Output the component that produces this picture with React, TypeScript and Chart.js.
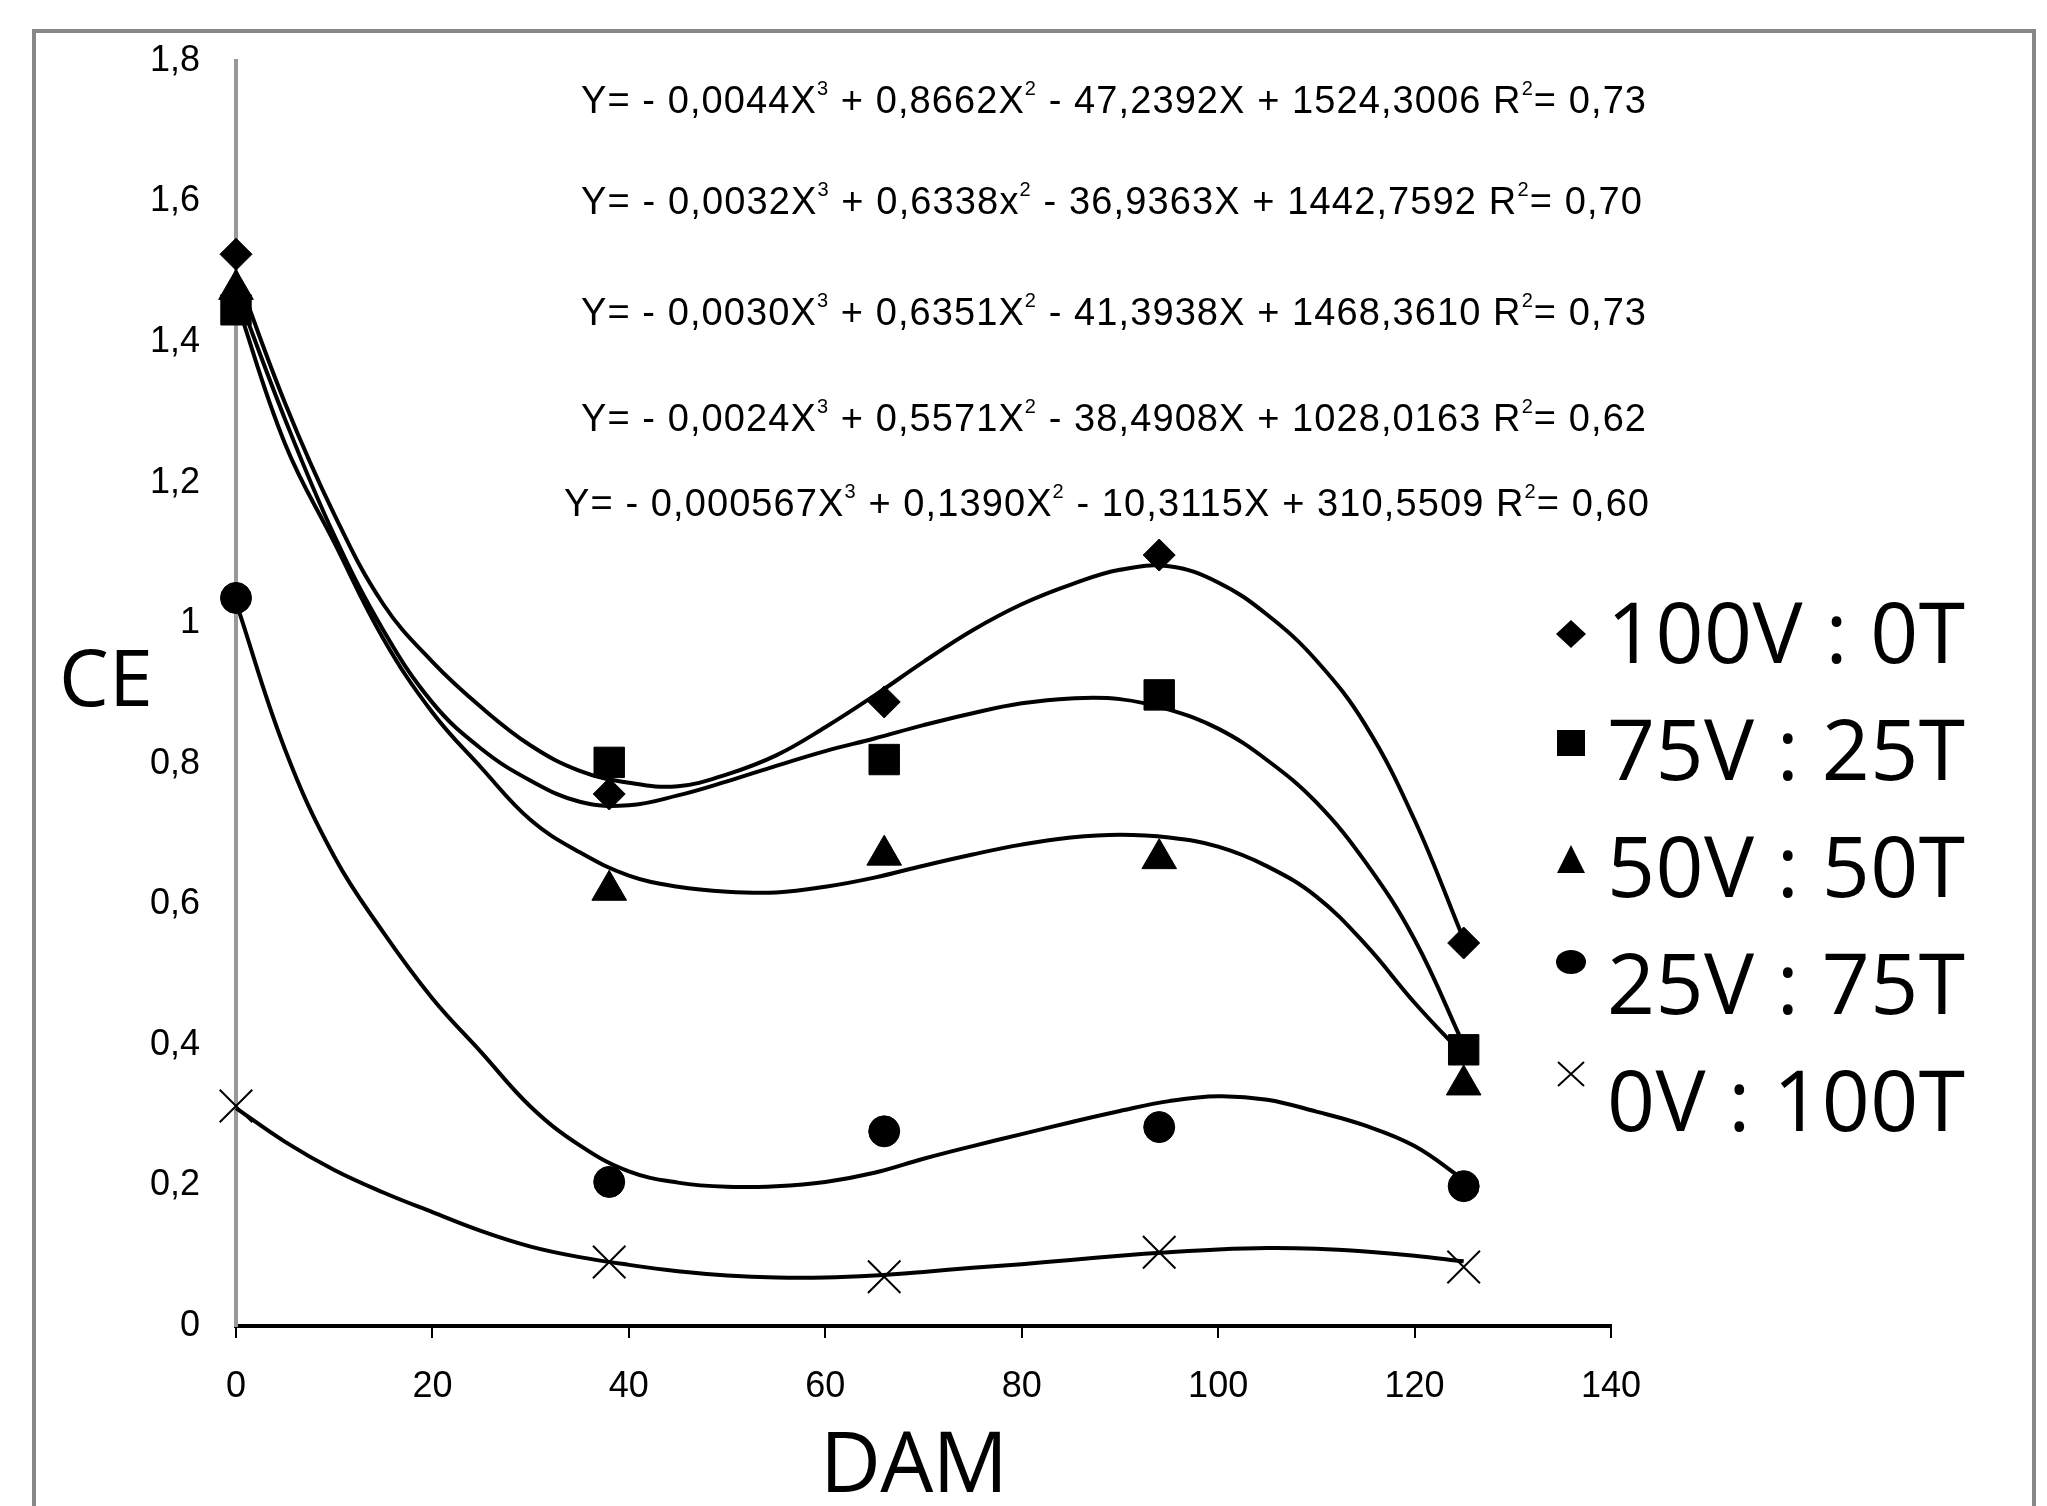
import React, { useEffect, useRef } from 'react';
import { Chart, registerables } from 'chart.js';

Chart.register(...registerables);

// ---------------- data ----------------
const DAM_DAYS = [0, 38, 66, 94, 125];

const CE_100V_0T = [1.525, 0.757, 0.888, 1.097, 0.545];
const CE_75V_25T = [1.446, 0.802, 0.806, 0.898, 0.393];
const CE_50V_50T = [1.475, 0.62, 0.67, 0.665, 0.343];
const CE_25V_75T = [1.036, 0.205, 0.277, 0.283, 0.199];
const CE_0V_100T = [0.313, 0.091, 0.07, 0.105, 0.084];

const TREND_DAM = [0, 5, 10, 15, 20, 25, 30, 35, 40, 45, 50, 55, 60, 65, 70, 75, 80, 85, 90, 95, 100, 105, 110, 115, 120, 125];
const TREND_100V_0T = [1.5, 1.313, 1.155, 1.027, 0.945, 0.88, 0.826, 0.79, 0.773, 0.768, 0.785, 0.812, 0.852, 0.897, 0.945, 0.99, 1.027, 1.055, 1.076, 1.081, 1.058, 1.012, 0.947, 0.855, 0.72, 0.55];
const TREND_75V_25T = [1.475, 1.29, 1.125, 0.99, 0.887, 0.821, 0.776, 0.746, 0.741, 0.755, 0.775, 0.797, 0.818, 0.836, 0.855, 0.872, 0.886, 0.893, 0.892, 0.877, 0.85, 0.805, 0.745, 0.66, 0.55, 0.4];
const TREND_50V_50T = [1.46, 1.255, 1.115, 0.978, 0.873, 0.794, 0.72, 0.674, 0.641, 0.625, 0.618, 0.617, 0.625, 0.638, 0.655, 0.671, 0.685, 0.695, 0.699, 0.695, 0.682, 0.654, 0.611, 0.543, 0.46, 0.385];
const TREND_25V_75T = [1.03, 0.82, 0.668, 0.56, 0.466, 0.389, 0.312, 0.257, 0.22, 0.204, 0.198, 0.199, 0.205, 0.218, 0.238, 0.256, 0.273, 0.29, 0.306, 0.32, 0.327, 0.322, 0.305, 0.285, 0.256, 0.208];
const TREND_0V_100T = [0.31, 0.262, 0.222, 0.19, 0.162, 0.135, 0.113, 0.098, 0.087, 0.078, 0.072, 0.069, 0.069, 0.072, 0.077, 0.083, 0.088, 0.094, 0.1, 0.105, 0.109, 0.111, 0.11, 0.106, 0.1, 0.092];

const SERIES_LABELS = ['100V : 0T', '75V : 25T', '50V : 50T', '25V : 75T', '0V : 100T'];
const SERIES_VALUES = [CE_100V_0T, CE_75V_25T, CE_50V_50T, CE_25V_75T, CE_0V_100T];
const SERIES_TRENDS = [TREND_100V_0T, TREND_75V_25T, TREND_50V_50T, TREND_25V_75T, TREND_0V_100T];

const EQUATIONS = [
  'Y= - 0,0044X^3 + 0,8662X^2 - 47,2392X + 1524,3006 R^2= 0,73',
  'Y= - 0,0032X^3 + 0,6338x^2 - 36,9363X + 1442,7592 R^2= 0,70',
  'Y= - 0,0030X^3 + 0,6351X^2 - 41,3938X + 1468,3610 R^2= 0,73',
  'Y= - 0,0024X^3 + 0,5571X^2 - 38,4908X + 1028,0163 R^2= 0,62',
  'Y= - 0,000567X^3 + 0,1390X^2 - 10,3115X + 310,5509 R^2= 0,60',
];

const X_TITLE = 'DAM';
const Y_TITLE = 'CE';
const X_MIN = 0, X_MAX = 140, X_STEP = 20;
const Y_MIN = 0, Y_MAX = 1.8, Y_STEP = 0.2;

// ---------------- styles / layout ----------------
const W = 2047, H = 1506;
const MARKERS = [
  { pointStyle: 'rectRot', radius: 16, borderWidth: 1, legend: 'diamond' },
  { pointStyle: 'rect', radius: 21.5, borderWidth: 1, legend: 'square' },
  { pointStyle: 'triangle', radius: 20, borderWidth: 1, legend: 'triangle' },
  { pointStyle: 'circle', radius: 15.5, borderWidth: 1, legend: 'circle' },
  { pointStyle: 'crossRot', radius: 23, borderWidth: 2, legend: 'cross' },
];
const EQ_LAYOUT = [
  { x: 581, y: 113, w: 1065 },
  { x: 581, y: 214, w: 1061 },
  { x: 581, y: 325, w: 1065 },
  { x: 581, y: 431, w: 1065 },
  { x: 564, y: 516, w: 1085 },
];
const LEGEND_TEXT_X = 1607;
const LEGEND_BASELINES = [663, 780, 897, 1014, 1131];
const LEGEND_MARKER_Y = [634, 743, 860, 962, 1074];
const LEGEND_MARKER_X = 1571;
const LEGEND_TEXT_W = 358;

function fitText(ctx: CanvasRenderingContext2D, text: string, x: number, y: number, targetW: number) {
  (ctx as any).letterSpacing = '0px';
  const w0 = ctx.measureText(text).width;
  const n = text.length;
  const ls = n > 1 ? (targetW - w0) / (n - 1) : 0;
  (ctx as any).letterSpacing = ls + 'px';
  ctx.fillText(text, x, y);
  (ctx as any).letterSpacing = '0px';
}

function drawEquation(ctx: CanvasRenderingContext2D, eq: string, x0: number, baseline: number, targetW: number) {
  const parts = eq.split(/\^(\d)/).map((t, i) => ({ t, sup: i % 2 === 1 })).filter((p) => p.t.length > 0);
  const mainFont = "38px 'Liberation Sans'";
  const supFont = "20px 'Liberation Sans'";
  (ctx as any).letterSpacing = '0px';
  let w0 = 0;
  let n = 0;
  const widths = parts.map((p) => {
    ctx.font = p.sup ? supFont : mainFont;
    const w = ctx.measureText(p.t).width;
    w0 += w;
    n += p.t.length;
    return w;
  });
  const ls = (targetW - w0) / (n - 1);
  let x = x0;
  parts.forEach((p, i) => {
    ctx.font = p.sup ? supFont : mainFont;
    (ctx as any).letterSpacing = ls + 'px';
    ctx.fillText(p.t, x, p.sup ? baseline - 18 : baseline);
    x += widths[i] + ls * p.t.length;
  });
  (ctx as any).letterSpacing = '0px';
}

function drawLegendMarker(ctx: CanvasRenderingContext2D, kind: string, x: number, y: number) {
  ctx.fillStyle = '#000';
  ctx.strokeStyle = '#000';
  ctx.beginPath();
  if (kind === 'diamond') {
    ctx.moveTo(x, y - 14);
    ctx.lineTo(x + 15, y);
    ctx.lineTo(x, y + 14);
    ctx.lineTo(x - 15, y);
    ctx.closePath();
    ctx.fill();
  } else if (kind === 'square') {
    ctx.rect(x - 14, y - 13, 28, 26);
    ctx.fill();
  } else if (kind === 'triangle') {
    ctx.moveTo(x, y - 15);
    ctx.lineTo(x + 14, y + 13);
    ctx.lineTo(x - 14, y + 13);
    ctx.closePath();
    ctx.fill();
  } else if (kind === 'circle') {
    ctx.ellipse(x, y, 15, 12, 0, 0, Math.PI * 2);
    ctx.fill();
  } else {
    ctx.lineWidth = 2;
    ctx.moveTo(x - 13, y - 12);
    ctx.lineTo(x + 13, y + 12);
    ctx.moveTo(x + 13, y - 12);
    ctx.lineTo(x - 13, y + 12);
    ctx.stroke();
  }
}

const decorPlugin = {
  id: 'decor',
  beforeDraw(chart: any) {
    const ctx: CanvasRenderingContext2D = chart.ctx;
    ctx.save();
    ctx.fillStyle = '#ffffff';
    ctx.fillRect(0, 0, chart.width, chart.height);
    ctx.strokeStyle = '#878787';
    ctx.lineWidth = 4;
    ctx.strokeRect(34, 31, 2000, 1600);
    ctx.restore();
  },
  afterDraw(chart: any) {
    const ctx: CanvasRenderingContext2D = chart.ctx;
    ctx.save();
    ctx.fillStyle = '#000';
    ctx.textAlign = 'left';
    ctx.textBaseline = 'alphabetic';
    EQUATIONS.forEach((eq, i) => {
      const p = EQ_LAYOUT[i];
      drawEquation(ctx, eq, p.x, p.y, p.w);
    });
    // axis titles
    ctx.fillStyle = '#000';
    ctx.font = "79px 'Open Sans'";
    fitText(ctx, Y_TITLE, 59, 706, 94);
    ctx.font = "84px 'Open Sans'";
    fitText(ctx, X_TITLE, 820, 1492, 188);
    // legend
    ctx.font = "84px 'Open Sans'";
    SERIES_LABELS.forEach((label, i) => {
      ctx.fillStyle = '#000';
      fitText(ctx, label, LEGEND_TEXT_X, LEGEND_BASELINES[i], LEGEND_TEXT_W);
      drawLegendMarker(ctx, MARKERS[i].legend, LEGEND_MARKER_X, LEGEND_MARKER_Y[i]);
    });
    ctx.restore();
  },
};

export default function App() {
  const canvasRef = useRef<HTMLCanvasElement | null>(null);

  useEffect(() => {
    if (!canvasRef.current) return;
    const datasets: any[] = [];
    SERIES_LABELS.forEach((label, i) => {
      const m = MARKERS[i];
      datasets.push({
        label: label,
        data: DAM_DAYS.map((d, j) => ({ x: d, y: SERIES_VALUES[i][j] })),
        showLine: false,
        pointStyle: m.pointStyle,
        pointRadius: m.radius,
        pointBorderWidth: m.borderWidth,
        pointBackgroundColor: '#000',
        pointBorderColor: '#000',
        clip: false,
      });
      datasets.push({
        label: label + ' trend',
        data: TREND_DAM.map((d, j) => ({ x: d, y: SERIES_TRENDS[i][j] })),
        showLine: true,
        borderColor: '#000',
        borderWidth: 4,
        pointRadius: 0,
        tension: 0.4,
        fill: false,
        clip: false,
      });
    });

    const tickFont = { family: "'Liberation Sans', Arial, sans-serif", size: 36 };
    const chart = new Chart(canvasRef.current, {
      type: 'scatter',
      data: { datasets },
      options: {
        responsive: false,
        animation: false,
        devicePixelRatio: 1,
        events: [],
        layout: { padding: { left: 0, top: 61, right: 436, bottom: 0 } },
        plugins: {
          legend: { display: false },
          tooltip: { enabled: false },
          title: { display: false },
        },
        scales: {
          x: {
            type: 'linear',
            position: 'bottom',
            min: X_MIN,
            max: X_MAX,
            ticks: { stepSize: X_STEP, color: '#000', font: tickFont, padding: 27, maxRotation: 0, autoSkip: false },
            grid: {
              display: true,
              drawOnChartArea: false,
              drawTicks: true,
              tickLength: 12,
              tickColor: '#000',
              tickWidth: 2,
              color: '#000',
              lineWidth: 2,
            },
            border: { display: true, color: '#000', width: 4 },
            afterFit: (s: any) => {
              s.height = H - 1326;
            },
          },
          y: {
            type: 'linear',
            position: 'left',
            min: Y_MIN,
            max: Y_MAX,
            ticks: {
              stepSize: Y_STEP,
              color: '#000',
              font: tickFont,
              padding: 36,
              callback: (v: any) => String(Math.round(Number(v) * 10) / 10).replace('.', ','),
            },
            grid: { display: false, drawTicks: false },
            border: { display: true, color: '#999999', width: 4 },
            afterFit: (s: any) => {
              s.width = 236;
            },
          },
        },
      } as any,
      plugins: [decorPlugin as any],
    });
    return () => chart.destroy();
  }, []);

  return (
    <div style={{ position: 'fixed', left: 0, top: 0, width: W, height: H, background: '#fff' }}>
      <canvas ref={canvasRef} width={W} height={H} style={{ display: 'block' }} />
    </div>
  );
}
